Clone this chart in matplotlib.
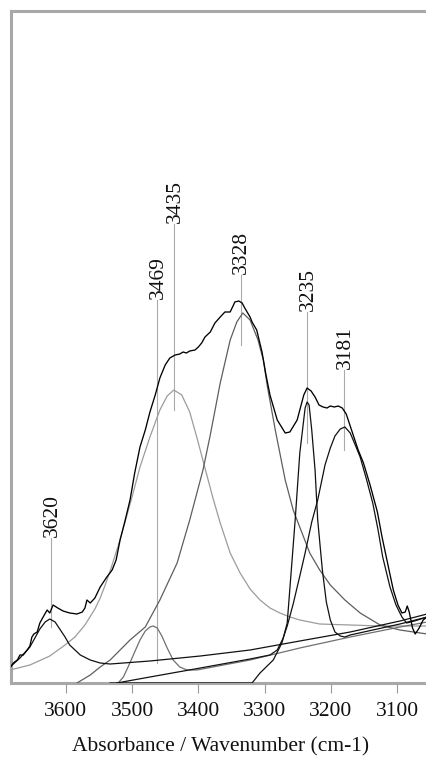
import matplotlib
matplotlib.use("Agg")
import matplotlib.pyplot as plt

plt.rcParams['font.family'] = ['Liberation Serif', 'DejaVu Serif']

# ---- data: (wavenumber cm-1, absorbance in arbitrary units) ----
envelope = [(3684,15),(3679,20),(3673,23),(3669,28),(3664,28),(3658,33),(3654,37),(3651,46),(3648,49),
            (3643,51),(3639,60),(3634,66),(3628,73),(3624,70),(3619,78),(3612,75),(3604,72),(3594,70),
            (3583,69),(3575,71),(3571,75),(3568,83),(3563,80),(3556,85),(3548,96),(3538,106),(3530,113),
            (3524,123),(3518,143),(3511,161),(3503,183),(3496,210),(3488,236),(3480,253),(3473,271),
            (3465,288),(3458,305),(3450,318),(3443,325),(3435,328),(3428,329),(3423,331),(3418,330),
            (3413,332),(3405,333),(3400,336),(3395,340),(3390,346),(3382,351),(3375,360),(3367,366),
            (3360,371),(3352,371),(3347,378),(3345,381),(3339,382),(3334,380),(3330,375),(3322,366),
            (3319,361),(3312,353),(3304,331),(3298,308),(3292,288),(3281,263),(3269,250),(3262,251),
            (3251,263),(3241,288),(3236,295),(3230,292),(3224,286),(3218,278),(3212,276),(3206,275),
            (3201,277),(3195,276),(3189,277),(3183,275),(3177,269),(3171,257),(3166,247),(3159,233),
            (3151,220),(3141,198),(3130,171),(3123,146),(3115,121),(3106,93),(3099,78),(3093,70),
            (3088,71),(3085,77),(3082,71),(3077,55),(3073,49),(3067,55),(3061,63),(3055,66)]

band_3620 = [(3684,16),(3669,25),(3654,36),(3639,54),(3631,61),(3624,64),(3616,61),(3609,54),(3601,46),
             (3594,38),(3578,28),(3563,23),(3548,20),(3533,19),(3473,22),(3397,27),(3322,33),(3247,42),
             (3171,51),(3096,62),(3055,69)]

band_3469 = [(3521,0),(3513,6),(3506,16),(3498,28),(3488,43),(3480,52),(3473,56),(3468,57),(3462,55),
             (3455,47),(3447,35),(3438,23),(3428,16),(3417,13),(3402,13),(3322,23),(3247,35),(3171,46),
             (3096,56),(3055,61)]

band_3435 = [(3684,13),(3654,18),(3624,27),(3601,38),(3586,46),(3571,58),(3556,74),(3548,85),(3541,97),
             (3533,112),(3521,137),(3511,160),(3500,186),(3488,216),(3473,246),(3458,273),(3447,287),
             (3437,293),(3425,288),(3413,271),(3402,245),(3390,215),(3378,185),(3367,160),(3352,130),
             (3337,110),(3322,94),(3307,83),(3292,75),(3277,70),(3262,66),(3247,63),(3217,59),(3171,58),
             (3126,57),(3055,57)]

band_3328 = [(3583,0),(3563,8),(3548,16),(3533,23),(3518,33),(3503,43),(3480,56),(3458,83),(3432,120),
             (3413,163),(3393,213),(3382,248),(3367,300),(3352,343),(3342,361),(3333,370),(3322,363),
             (3310,343),(3302,323),(3296,297),(3284,253),(3269,203),(3257,173),(3232,130),(3217,113),
             (3201,98),(3179,83),(3156,70),(3126,58),(3096,53),(3055,49)]

band_3235 = [(3533,0),(3319,0),(3307,10),(3287,23),(3274,40),(3266,60),(3259,120),(3254,163),(3247,230),
             (3242,258),(3239,275),(3236,281),(3233,278),(3229,253),(3224,213),(3220,163),(3213,113),
             (3207,81),(3201,63),(3194,51),(3186,47),(3179,46),(3171,48),(3096,59),(3055,66)]

band_3181 = [(3523,0),(3473,6),(3397,15),(3322,24),(3292,28),(3281,33),(3272,45),(3266,57),(3257,79),
             (3247,107),(3239,130),(3229,161),(3220,183),(3209,218),(3201,235),(3194,247),(3186,254),
             (3179,256),(3171,250),(3164,239),(3156,226),(3147,205),(3137,180),(3129,153),(3122,126),
             (3111,96),(3102,78),(3093,66),(3086,60),(3074,62),(3055,66)]

peak_labels = ["3620", "3469", "3435", "3328", "3235", "3181"]
peak_marker_wn = [3622, 3462, 3436, 3336, 3236, 3180]
peak_marker_low = [56, 20, 273, 338, 240, 233]
peak_marker_high = [145, 383, 459, 408, 371, 313]

xticks = [3600, 3500, 3400, 3300, 3200, 3100]
xlabel = "Absorbance / Wavenumber (cm-1)"

# ---- figure ----
W, H = 427, 771
fig = plt.figure(figsize=(W / 100, H / 100), dpi=100)
ax = fig.add_axes([11 / W, (H - 683) / H, (427 - 11) / W, (683 - 11) / H])

def draw(series, color, lw=0.9, z=3):
    xs = [p[0] for p in series]
    ys = [p[1] for p in series]
    ax.plot(xs, ys, color=color, lw=lw, zorder=z, solid_joinstyle='round')

draw(band_3435, '#9c9c9c')
draw(band_3469, '#707070')
draw(band_3328, '#5e5e5e')
draw(band_3620, '#111111')
draw(band_3235, '#111111')
draw(band_3181, '#111111')
draw(envelope, '#000000', lw=0.95, z=4)

for lab, x, lo, hi in zip(peak_labels, peak_marker_wn, peak_marker_low, peak_marker_high):
    ax.plot([x, x], [lo, hi], color='#aaaaaa', lw=0.8, zorder=1)
    ax.text(x - 1.5, hi + 1, lab, rotation=90, ha='center', va='bottom',
            fontsize=15.5, color='#111111')

ax.set_xlim(3682.5, 3055.2)
ax.set_ylim(0, 672)
ax.set_xticks(xticks)
ax.set_xticklabels([str(t) for t in xticks])
ax.set_yticks([])
ax.tick_params(axis='x', direction='out', length=7.5, width=0.8, color='#9a9a9a',
               pad=6, labelsize=15.5, labelcolor='#111111')

for side in ['left', 'top', 'bottom']:
    ax.spines[side].set_color('#a8a8a8')
    ax.spines[side].set_linewidth(2.2)
ax.spines['right'].set_visible(False)

fig.text(221 / W, 1 - 747 / H, xlabel, ha='center', va='center', fontsize=15.5, color='#111111')

fig.savefig('out.png', dpi=100)
